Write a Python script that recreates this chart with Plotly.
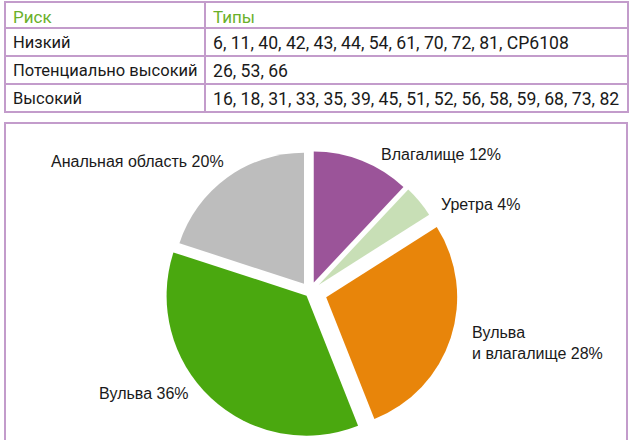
import plotly.graph_objects as go

# ---- data ----
table_header = ["Риск", "Типы"]
risk_levels = ["Низкий", "Потенциально высокий", "Высокий"]
hpv_types = [
    "6, 11, 40, 42, 43, 44, 54, 61, 70, 72, 81, CP6108",
    "26, 53, 66",
    "16, 18, 31, 33, 35, 39, 45, 51, 52, 56, 58, 59, 68, 73, 82",
]

sites = ["Влагалище", "Уретра", "Вульва<br>и влагалище", "Вульва", "Анальная область"]
shares = [12, 4, 28, 36, 20]
colors = ["#9b5499", "#c8dfb6", "#e8850a", "#4aa80f", "#bdbdbd"]

W, H = 632, 440
BORDER = "#c39ccb"
TEXT = "#1a1a1a"


def px(x):
    return x / W


def py(y):
    return 1 - y / H


def nowrap(s):
    return s.replace(" ", "\u00a0")


fig = go.Figure()

# ---- table ----
fig.add_trace(go.Table(
    domain=dict(x=[px(5), px(628)], y=[py(113), py(2)]),
    columnwidth=[200, 423],
    header=dict(
        values=table_header,
        align="left",
        height=26,
        fill_color="white",
        line=dict(color=BORDER, width=1.2),
        font=dict(family="Roboto", size=17, color="#6ab02a"),
    ),
    cells=dict(
        values=[[nowrap(s) for s in risk_levels], [nowrap(s) for s in hpv_types]],
        align="left",
        height=28,
        fill_color="white",
        line=dict(color=BORDER, width=1.2),
        font=dict(family="Roboto", size=[16.5, 17.6], color=TEXT),
    ),
))

# ---- pie (green slice drawn with a slightly larger radius) ----
green_idx = 3
colA = [("rgba(0,0,0,0)" if i == green_idx else c) for i, c in enumerate(colors)]
colB = [(c if i == green_idx else "rgba(0,0,0,0)") for i, c in enumerate(colors)]
pullA = [0.078, 0.085, 0.13, 0.0, 0.078]
pullB = [0, 0, 0, 0.036, 0]

cx, cy = 310, 292
# A: r = 296 / (2*1.13) ~ 131
hA = 296
fig.add_trace(go.Pie(
    labels=sites, values=shares, sort=False, direction="clockwise", rotation=0,
    marker=dict(colors=colA, line=dict(width=0)),
    pull=pullA, textinfo="none", hoverinfo="label+percent", showlegend=False,
    domain=dict(x=[px(cx - hA / 2), px(cx + hA / 2)], y=[py(cy + hA / 2), py(cy - hA / 2)]),
))
hB = 290
fig.add_trace(go.Pie(
    labels=sites, values=shares, sort=False, direction="clockwise", rotation=0,
    marker=dict(colors=colB, line=dict(width=0)),
    pull=pullB, textinfo="none", hoverinfo="skip", showlegend=False,
    domain=dict(x=[px(cx - hB / 2), px(cx + hB / 2)], y=[py(cy + hB / 2), py(cy - hB / 2)]),
))

# ---- labels ----
label_pos = [(379, 154), (439, 204), (470, 343), (97, 393), (49, 161)]
total = sum(shares)
for name, v, (lx, ly) in zip(sites, shares, label_pos):
    fig.add_annotation(
        x=px(lx), y=py(ly), xref="paper", yref="paper",
        xanchor="left", yanchor="middle", align="left", showarrow=False,
        text=f"{name} {round(100 * v / total)}%",
        font=dict(family="Liberation Sans", size=16, color=TEXT),
    )

# ---- frame around the chart ----
fig.add_shape(type="rect", xref="paper", yref="paper",
              x0=px(5), x1=px(627), y0=py(470), y1=py(123),
              line=dict(color=BORDER, width=2), fillcolor="rgba(0,0,0,0)", layer="below")

fig.update_layout(
    width=W, height=H,
    margin=dict(l=0, r=0, t=0, b=0),
    paper_bgcolor="white", plot_bgcolor="white",
)

fig.write_html("out.html")
